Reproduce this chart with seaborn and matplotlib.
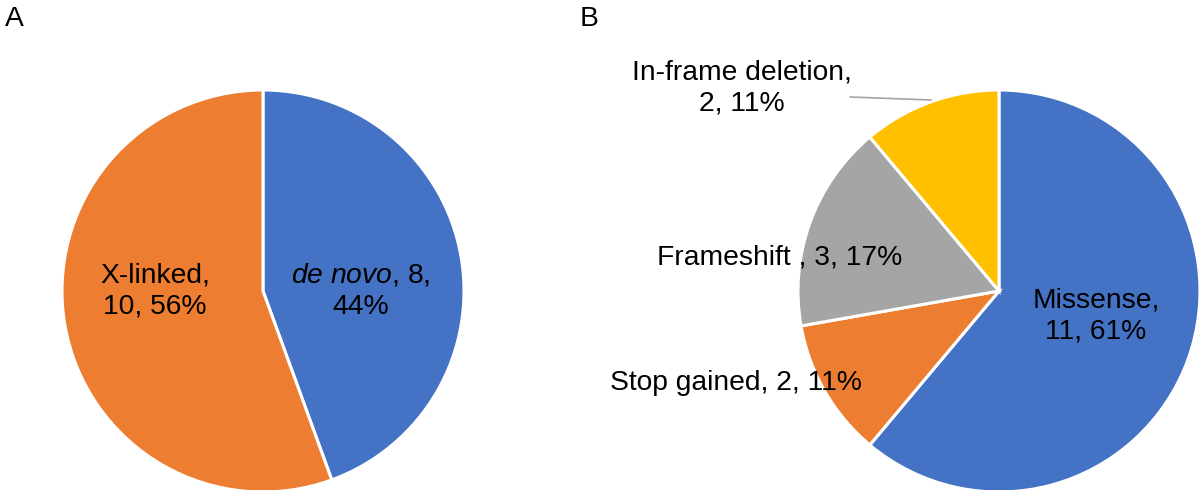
import matplotlib
matplotlib.use("Agg")
import matplotlib.pyplot as plt
import seaborn as sns

# data
inherit_labels = ["de novo", "X-linked"]
inherit_counts = [8, 10]
variant_labels = ["Missense", "Stop gained", "Frameshift ", "In-frame deletion"]
variant_counts = [11, 2, 3, 2]

sns.set_theme(style="white")
plt.rcParams['font.family'] = ['Liberation Sans', 'DejaVu Sans']
plt.rcParams['text.color'] = 'black'
plt.rcParams['mathtext.fontset'] = 'custom'
plt.rcParams['mathtext.rm'] = 'Liberation Sans'
plt.rcParams['mathtext.it'] = 'Liberation Sans:italic'

pal = ["#4472C4", "#ED7D31", "#A5A5A5", "#FFC000"]

fig = plt.figure(figsize=(12, 4.9), dpi=100)
ax = fig.add_axes([0, 0, 1, 1])

wedge_kw = dict(edgecolor="white", linewidth=2.2)
fs = 20.3
ls = 1.25

ax.pie(inherit_counts, colors=pal[:2], startangle=90, counterclock=False,
       center=(263, 199), radius=201, wedgeprops=wedge_kw, frame=True)
ax.pie(variant_counts, colors=pal, startangle=90, counterclock=False,
       center=(999, 199), radius=201, wedgeprops=wedge_kw, frame=True)

ax.set_xlim(0, 1200)
ax.set_ylim(0, 490)
ax.set_axis_off()


def pct(v, tot):
    return f"{round(100 * v / tot)}%"


ti = sum(inherit_counts)
tv = sum(variant_counts)

# panel A labels
ax.text(155, 199, f"{inherit_labels[1]},\n{inherit_counts[1]}, {pct(inherit_counts[1], ti)}",
        ha="center", va="center", fontsize=fs, linespacing=ls)
ax.text(361, 199, r"$\mathit{de\ novo}$" + f", {inherit_counts[0]},\n{pct(inherit_counts[0], ti)}",
        ha="center", va="center", fontsize=fs, linespacing=ls)

# panel B labels
ax.text(1096, 174, f"{variant_labels[0]},\n{variant_counts[0]}, {pct(variant_counts[0], tv)}",
        ha="center", va="center", fontsize=fs, linespacing=ls)
ax.text(736, 107, f"{variant_labels[1]}, {variant_counts[1]}, {pct(variant_counts[1], tv)}",
        ha="center", va="center", fontsize=fs)
ax.text(780, 233, f"{variant_labels[2]}, {variant_counts[2]}, {pct(variant_counts[2], tv)}",
        ha="center", va="center", fontsize=fs)
ax.text(742, 402, f"{variant_labels[3]},\n{variant_counts[3]}, {pct(variant_counts[3], tv)}",
        ha="center", va="center", fontsize=fs, linespacing=ls)
ax.plot([850, 931], [393, 390], color="#A5A5A5", linewidth=1.2)

fig.text(5, 464, "A", transform=None, fontsize=fs, va="baseline")
fig.text(580, 464, "B", transform=None, fontsize=fs, va="baseline")

fig.savefig("out.png", dpi=100)
